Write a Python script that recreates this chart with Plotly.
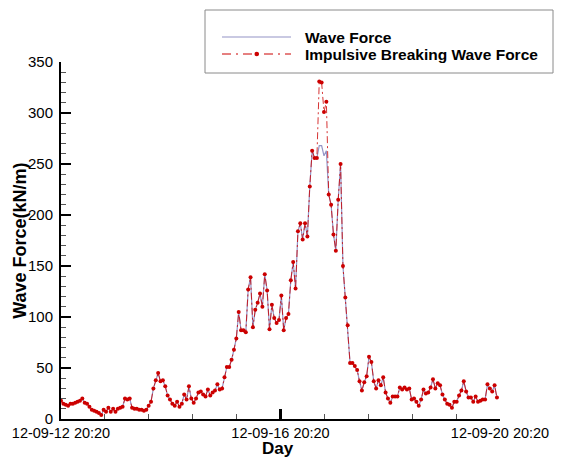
import pandas as pd
import plotly.graph_objects as go

# Hourly wave force record (kN/m), 12-09-12 20:20 onward
wave_force = [
    18, 15, 14, 13, 15, 15, 16, 17, 18, 20,
    16, 15, 12, 9, 8, 7, 6, 4, 9, 7,
    11, 7, 10, 7, 10, 11, 12, 20, 19, 20,
    11, 10, 10, 9, 9, 8, 9, 13, 17, 30,
    38, 45, 37, 38, 32, 23, 19, 15, 13, 17,
    12, 15, 24, 19, 32, 20, 16, 20, 26, 27,
    24, 22, 29, 23, 26, 28, 34, 29, 30, 41,
    51, 51, 58, 68, 79, 105, 87, 87, 85, 127,
    139, 90, 107, 114, 123, 110, 142, 126, 88, 112,
    99, 94, 97, 121, 87, 99, 103, 136, 154, 128,
    184, 192, 176, 192, 179, 228, 263, 256, 256, 268,
    268, 258, 263, 220, 210, 181, 165, 215, 250, 150,
    119, 92, 55, 55, 52, 48, 37, 28, 36, 42,
    61, 56, 37, 30, 38, 33, 41, 26, 20, 16,
    22, 22, 22, 31, 29, 31, 29, 30, 19, 20,
    17, 13, 19, 29, 25, 26, 31, 39, 30, 35,
    33, 24, 19, 15, 14, 11, 17, 17, 23, 28,
    37, 27, 21, 21, 17, 22, 17, 18, 19, 19,
    34, 30, 27, 33, 21,
]

# Impulsive breaking force exceeds the regular force only at the storm peak
peak_first_index = 109
impulsive_peak = [331, 330, 301, 311]
impulsive_force = (
    wave_force[:peak_first_index]
    + impulsive_peak
    + wave_force[peak_first_index + len(impulsive_peak):]
)

times = pd.date_range("2012-09-12 20:20", "2012-09-20 19:00", periods=len(wave_force))

axis_start = pd.Timestamp("2012-09-12 20:20")
axis_end = pd.Timestamp("2012-09-20 20:20")
x_tick_values = [axis_start, pd.Timestamp("2012-09-16 20:20"), axis_end]
y_tick_values = [0, 50, 100, 150, 200, 250, 300, 350]

series_names = ["Wave Force", "Impulsive Breaking Wave Force"]
wave_color = "#9494c6"
impulsive_color = "#cc0000"
font_family = "Liberation Sans, Arial, sans-serif"

fig = go.Figure()
fig.add_trace(go.Scatter(
    x=times, y=wave_force, mode="lines", name=series_names[0],
    line=dict(color=wave_color, width=1.2), showlegend=False,
))
fig.add_trace(go.Scatter(
    x=times, y=impulsive_force, mode="lines+markers", name=series_names[1],
    line=dict(color=impulsive_color, width=0.8, dash="7px,3px,2px,3px"),
    marker=dict(color="#cc0000", size=4, line=dict(width=0)),
    showlegend=False,
))

fig.update_xaxes(
    type="date",
    range=[axis_start, axis_end],
    tickvals=x_tick_values,
    tickformat="%y-%m-%d %H:%M",
    ticks="inside", ticklen=10, tickwidth=2.5, tickcolor="black",
    minor=dict(ticks="inside", ticklen=5, tickwidth=1, tickcolor="#555555",
               tick0=axis_start, dtick=0.8 * 86400000),
    showline=True, linecolor="black", linewidth=2,
    showgrid=False, zeroline=False,
    tickfont=dict(family=font_family, size=14.5, color="black"),
)
fig.update_yaxes(
    range=[0, 350],
    tickvals=y_tick_values,
    ticks="inside", ticklen=10, tickwidth=2, tickcolor="black",
    minor=dict(ticks="inside", ticklen=5, tickwidth=1, tickcolor="#555555", dtick=10),
    showline=True, linecolor="black", linewidth=2,
    showgrid=False, zeroline=False,
    ticklabelstandoff=3,
    tickfont=dict(family=font_family, size=15, color="black"),
)

# Axis titles
fig.add_annotation(
    text="<b>Wave Force(kN/m)</b>", textangle=-90,
    xref="paper", yref="paper", x=-0.095, y=0.5,
    xanchor="center", yanchor="middle", showarrow=False,
    font=dict(family=font_family, size=18, color="black"),
)
fig.add_annotation(
    text="<b>Day</b>",
    xref="paper", yref="paper", x=0.494, y=-0.083,
    xanchor="center", yanchor="middle", showarrow=False,
    font=dict(family=font_family, size=17, color="black"),
)

# Legend box drawn in paper coordinates
def px_x(p):
    return (p - 61) / 439

def px_y(p):
    return (419 - p) / 357

fig.add_shape(type="rect", xref="paper", yref="paper",
              x0=px_x(205), x1=px_x(553), y0=px_y(73), y1=px_y(10),
              line=dict(color="#8a8a8a", width=1), fillcolor="white")
fig.add_shape(type="line", xref="paper", yref="paper",
              x0=px_x(222), x1=px_x(291), y0=px_y(37), y1=px_y(37),
              line=dict(color=wave_color, width=1.2))
fig.add_shape(type="line", xref="paper", yref="paper",
              x0=px_x(222), x1=px_x(291), y0=px_y(54), y1=px_y(54),
              line=dict(color=impulsive_color, width=1, dash="9px,5px,2px,5px"))
fig.add_shape(type="circle", xref="paper", yref="paper",
              x0=px_x(254.5), x1=px_x(259), y0=px_y(56.2), y1=px_y(51.8),
              line=dict(width=0), fillcolor="#cc0000")
for label, ypix in zip(series_names, [37, 54]):
    fig.add_annotation(
        text="<b>" + label + "</b>", xref="paper", yref="paper",
        x=px_x(303), y=px_y(ypix), xanchor="left", yanchor="middle",
        showarrow=False, font=dict(family=font_family, size=15.5, color="black"),
    )

fig.update_layout(
    width=561, height=458,
    margin=dict(l=61, r=61, t=62, b=39, autoexpand=False),
    paper_bgcolor="white", plot_bgcolor="white",
    showlegend=False,
)

fig.write_html("out.html", config={"displayModeBar": False})
